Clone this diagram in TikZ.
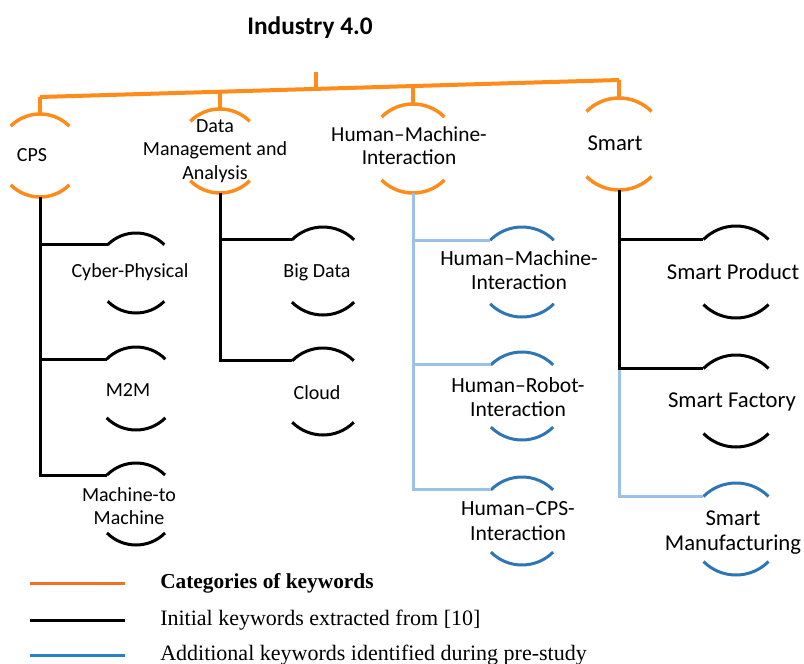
\documentclass[tikz,border=0pt]{standalone}
\usepackage{fontspec}
\setmainfont{Carlito}
\newfontfamily\legfont{Liberation Serif}
\definecolor{catorange}{RGB}{255,140,26}
\definecolor{legorange}{RGB}{240,112,40}
\definecolor{kwblue}{RGB}{46,117,182}
\definecolor{lineblue}{RGB}{155,194,230}
\definecolor{legblue}{RGB}{40,130,200}
\tikzset{
  orangeline/.style={draw=catorange, line width=3pt},
  orangearc/.style={draw=catorange, line width=2.6pt},
  blackline/.style={draw=black, line width=2.25pt},
  bluearc/.style={draw=kwblue, line width=2.25pt},
  blueline/.style={draw=lineblue, line width=2.25pt},
  lbl/.style={align=center, font=\fontsize{15}{17.5}\selectfont, inner sep=0pt},
  hmilbl/.style={align=center, font=\fontsize{16.2}{18.6}\selectfont, inner sep=0pt},
  biglbl/.style={align=center, font=\fontsize{17}{18.75}\selectfont, inner sep=0pt},
  legtext/.style={anchor=west, inner sep=0pt, font=\legfont\fontsize{16.5}{18}\selectfont},
}
\newcommand\kwnode[5]{%
  \node[circle, inner sep=0pt, outer sep=0pt, minimum size={#4*1.5pt}] (#1) at (#2,#3) {};
  \draw[#5] (#1.135) arc[start angle=135, end angle=45, radius={#4*0.75pt}];
  \draw[#5] (#1.225) arc[start angle=225, end angle=315, radius={#4*0.75pt}];
}
\begin{document}
\begin{tikzpicture}[x=0.75pt, y=0.75pt]
\useasboundingbox (0,0) rectangle (804,-664);
% title
\node[font=\bfseries\fontsize{19}{22}\selectfont, inner sep=0pt] (title) at (310,-28) {Industry 4.0};
% categories
\kwnode{cps}{40}{-155.5}{41.5}{orangearc}
\kwnode{dma}{220}{-151}{42}{orangearc}
\kwnode{hmi}{413}{-148.5}{44.5}{orangearc}
\kwnode{smart}{619}{-144}{46}{orangearc}
\node[lbl] (cpst) at (32,-155) {CPS};
\node[lbl] (dmat) at (215,-151) {Data\\Management and\\Analysis};
\node[hmilbl, font=\fontsize{16}{17.25}\selectfont] (hmit) at (409,-146) {Human–Machine-\\Interaction};
\node[biglbl] (smartt) at (615,-143) {Smart};
% orange tree
\coordinate (stem) at (316,-72);
\coordinate (j0) at (316,-88.9);
\coordinate (j1) at (40,-97);
\coordinate (j2) at (220,-91.7);
\coordinate (j3) at (413,-86.1);
\coordinate (j4) at (619,-80);
\draw[orangeline] (stem) -- (j0);
\draw[orangeline] (j1) -- (j4);
\draw[orangeline] (j1) -- (cps.north);
\draw[orangeline] (j2) -- (dma.north);
\draw[orangeline] (j3) -- (hmi.north);
\draw[orangeline] (j4) -- (smart.north);
% CPS children
\kwnode{cyb}{136}{-273}{40}{blackline}
\kwnode{mm}{136}{-388.5}{41.5}{blackline}
\kwnode{mtm}{136}{-504}{41}{blackline}
\node[lbl] (cybt) at (130,-272) {Cyber-Physical};
\node[lbl] (mmt) at (128,-390) {M2M};
\node[lbl] (mtmt) at (129,-506) {Machine-to\\Machine};
\draw[blackline] (cps.south) |- (cyb.135);
\draw[blackline] (cps.south) |- (mm.135);
\draw[blackline] (cps.south) |- (mtm.135);
% DMA children
\kwnode{bd}{323}{-271}{44}{blackline}
\kwnode{cl}{323}{-391.5}{43.5}{blackline}
\node[lbl] (bdt) at (317,-272) {Big Data};
\node[lbl] (clt) at (317,-393) {Cloud};
\draw[blackline] (dma.south) |- (bd.135);
\draw[blackline] (dma.south) |- (cl.135);
% HMI children
\kwnode{ha}{522}{-272}{45}{bluearc}
\kwnode{hb}{522}{-396}{44}{bluearc}
\kwnode{hc}{522}{-521}{44}{bluearc}
\node[hmilbl] (hat) at (519,-270) {Human–Machine-\\Interaction};
\node[hmilbl] (hbt) at (518,-397) {Human–Robot-\\Interaction};
\node[hmilbl] (hct) at (518,-521) {Human–CPS-\\Interaction};
\draw[blueline] (hmi.south) |- (ha.135);
\draw[blueline] (hmi.south) |- (hb.135);
\draw[blueline] (hmi.south) |- (hc.135);
% Smart children
\kwnode{sp}{736}{-272}{46}{blackline}
\kwnode{sf}{736}{-401}{46}{blackline}
\kwnode{sm}{736}{-529}{46}{bluearc}
\node[biglbl] (spt) at (733,-272) {Smart Product};
\node[biglbl] (sft) at (732,-402) {Smart Factory};
\node[biglbl] (smt) at (733,-533) {Smart\\Manufacturing};
\draw[blueline] (smart.south |- sf.135) |- (sm.135);
\draw[blackline] (smart.south) |- (sp.135);
\draw[blackline] (smart.south) |- (sf.135);
% legend
\coordinate (la1) at (30,-583); \coordinate (la2) at (125,-583);
\coordinate (lb1) at (30,-620); \coordinate (lb2) at (125,-620);
\coordinate (lc1) at (30,-655); \coordinate (lc2) at (125,-655);
\draw[draw=legorange, line width=2.25pt] (la1) -- (la2);
\draw[draw=black, line width=2.25pt] (lb1) -- (lb2);
\draw[draw=legblue, line width=2.25pt] (lc1) -- (lc2);
\node[legtext, font=\legfont\bfseries\fontsize{16}{18}\selectfont] (lat) at (160,-583) {Categories of keywords};
\node[legtext] (lbt) at (160,-620) {Initial keywords extracted from [10]};
\node[legtext] (lct) at (160,-655) {Additional keywords identified during pre-study};
\end{tikzpicture}
\end{document}
